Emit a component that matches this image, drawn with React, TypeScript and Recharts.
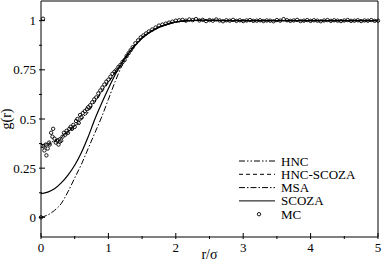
import React from 'react';
import { ComposedChart, Line, Scatter, XAxis, YAxis, Legend, Label } from 'recharts';

const FONT = 'Liberation Serif';

// Theory curves grid
const rGrid = [0, 0.1, 0.2, 0.3, 0.4, 0.5, 0.6, 0.7, 0.8, 0.9, 1.0, 1.1, 1.2, 1.3, 1.4, 1.5, 1.6, 1.7, 1.8, 1.9, 2.0, 2.2, 2.4, 2.6, 2.8, 3.0, 3.5, 4.0, 4.5, 5.0];
const hnc = [0.37, 0.375, 0.39, 0.41, 0.435, 0.465, 0.5, 0.54, 0.59, 0.64, 0.69, 0.74, 0.79, 0.84, 0.88, 0.915, 0.94, 0.96, 0.975, 0.987, 0.995, 1.002, 1.003, 1.002, 1.001, 1.0, 1.0, 1.0, 1.0, 1.0];
const hncScoza = [0.355, 0.365, 0.385, 0.405, 0.43, 0.46, 0.495, 0.535, 0.585, 0.635, 0.685, 0.735, 0.785, 0.835, 0.875, 0.91, 0.938, 0.958, 0.973, 0.985, 0.993, 1.0, 1.002, 1.001, 1.0, 1.0, 1.0, 1.0, 1.0, 1.0];
const msa = [0, 0.012, 0.035, 0.07, 0.13, 0.2, 0.27, 0.35, 0.43, 0.51, 0.6, 0.69, 0.77, 0.83, 0.88, 0.915, 0.94, 0.96, 0.975, 0.986, 0.994, 1.0, 1.002, 1.001, 1.0, 1.0, 1.0, 1.0, 1.0, 1.0];
const scoza = [0.12, 0.128, 0.145, 0.175, 0.215, 0.265, 0.33, 0.41, 0.5, 0.58, 0.655, 0.725, 0.785, 0.835, 0.875, 0.91, 0.937, 0.957, 0.972, 0.984, 0.992, 1.0, 1.002, 1.001, 1.0, 1.0, 1.0, 1.0, 1.0, 1.0];

// Monte Carlo points
const mcR = [
  0.0, 0.03, 0.04, 0.05, 0.07, 0.08, 0.1, 0.12, 0.13, 0.15,
  0.17, 0.18, 0.2, 0.22, 0.24, 0.26, 0.28, 0.3, 0.32, 0.34,
  0.36, 0.38, 0.4, 0.42, 0.44, 0.46, 0.48, 0.5, 0.52, 0.54,
  0.56, 0.58, 0.6, 0.62, 0.65, 0.68, 0.7, 0.73, 0.76, 0.79,
  0.82, 0.85, 0.88, 0.91, 0.94, 0.97, 1.0, 1.03, 1.06, 1.09,
  1.12, 1.15, 1.18, 1.21, 1.24, 1.27, 1.3, 1.33, 1.36, 1.4,
  1.44, 1.48, 1.52, 1.56, 1.6, 1.65, 1.7, 1.75, 1.8, 1.85,
  1.9, 1.95, 2.0,
  2.05, 2.1, 2.15, 2.2, 2.25, 2.3, 2.35, 2.4, 2.45, 2.5,
  2.55, 2.6, 2.65, 2.7, 2.75, 2.8, 2.85, 2.9, 2.95, 3.0,
  3.05, 3.1, 3.15, 3.2, 3.25, 3.3, 3.35, 3.4, 3.45, 3.5,
  3.55, 3.6, 3.65, 3.7, 3.75, 3.8, 3.85, 3.9, 3.95, 4.0,
  4.05, 4.1, 4.15, 4.2, 4.25, 4.3, 4.35, 4.4, 4.45, 4.5,
  4.55, 4.6, 4.65, 4.7, 4.75, 4.8, 4.85, 4.9, 4.95, 5.0,
];
const mcG = [
  0.0, 1.01, 0.36, 0.34, 0.37, 0.315, 0.35, 0.38, 0.37, 0.43,
  0.41, 0.45, 0.40, 0.38, 0.39, 0.37, 0.385, 0.39, 0.41, 0.43,
  0.42, 0.44, 0.43, 0.45, 0.46, 0.45, 0.47, 0.46, 0.49, 0.50,
  0.48, 0.52, 0.51, 0.53, 0.54, 0.55, 0.56, 0.57, 0.585, 0.6,
  0.61, 0.63, 0.645, 0.66, 0.675, 0.69, 0.70, 0.715, 0.73, 0.74,
  0.75, 0.765, 0.775, 0.79, 0.80, 0.82, 0.835, 0.85, 0.865, 0.885,
  0.9, 0.915, 0.925, 0.935, 0.945, 0.955, 0.965, 0.975, 0.98, 0.985,
  0.99, 0.995, 1.0,
  1.002, 1.004, 1.0, 1.006, 1.003, 1.008, 1.001, 1.004, 0.998, 1.003,
  1.0, 1.006, 1.001, 0.997, 1.002, 1.0, 1.004, 0.999, 1.002, 0.998,
  1.001, 1.003, 0.999, 1.0, 1.002, 0.998, 1.001, 1.0, 0.997, 1.003,
  1.0, 1.008, 1.002, 0.999, 1.001, 1.004, 0.998, 1.0, 1.003, 0.999,
  1.002, 1.0, 0.997, 1.001, 1.003, 0.999, 1.002, 1.0, 0.998, 1.001,
  1.003, 0.999, 1.0, 1.002, 0.998, 1.001, 1.0, 1.003, 0.999, 1.0,
];

const xTicks = [0, 0.5, 1, 1.5, 2, 2.5, 3, 3.5, 4, 4.5, 5];
const yTicks = [0, 0.125, 0.25, 0.375, 0.5, 0.625, 0.75, 0.875, 1];
const legendNames = ['HNC', 'HNC-SCOZA', 'MSA', 'SCOZA', 'MC'];
const dashes = ['6 2 1.5 2 1.5 2', '4 3', '6 2 1.5 2', undefined];

const toSeries = (vals: number[]) => rGrid.map((r, i) => ({ r, g: vals[i] }));
const hncData = toSeries(hnc);
const hncScozaData = toSeries(hncScoza);
const msaData = toSeries(msa);
const scozaData = toSeries(scoza);
const mcData = mcR.map((r, i) => ({ r, g: mcG[i] }));

const isMajorX = (v: number) => Math.abs(v - Math.round(v)) < 1e-9;
const isMajorY = (v: number) => Math.abs(v * 4 - Math.round(v * 4)) < 1e-9;

const BottomTick = (p: any) => {
  const v = p.payload.value;
  const major = isMajorX(v);
  return (
    <g>
      <line x1={p.x} x2={p.x} y1={p.y} y2={p.y - (major ? 6 : 3)} stroke="#000" />
      {major && (
        <text x={p.x} y={p.y + 13} textAnchor="middle" fontSize={13} fontFamily={FONT} fill="#000">{String(v)}</text>
      )}
    </g>
  );
};
const TopTick = (p: any) => {
  const major = isMajorX(p.payload.value);
  return <line x1={p.x} x2={p.x} y1={p.y} y2={p.y + (major ? 6 : 3)} stroke="#000" />;
};
const LeftTick = (p: any) => {
  const v = p.payload.value;
  const major = isMajorY(v);
  return (
    <g>
      <line x1={p.x} x2={p.x + (major ? 6 : 3)} y1={p.y} y2={p.y} stroke="#000" />
      {major && (
        <text x={p.x - 3} y={p.y + 4.5} textAnchor="end" fontSize={13} fontFamily={FONT} fill="#000">{String(v)}</text>
      )}
    </g>
  );
};
const RightTick = (p: any) => {
  const major = isMajorY(p.payload.value);
  return <line x1={p.x} x2={p.x - (major ? 6 : 3)} y1={p.y} y2={p.y} stroke="#000" />;
};

const MCDot = (p: any) => (
  <circle cx={p.cx} cy={p.cy} r={1.7} fill="none" stroke="#000" strokeWidth={0.9} />
);

const LegendBox = () => (
  <svg width={140} height={72} style={{ display: 'block' }}>
    {legendNames.map((name, i) => {
      const y = 7 + i * 13.3;
      return (
        <g key={name}>
          {i < 4 ? (
            <line x1={0} x2={36} y1={y} y2={y} stroke="#000" strokeWidth={1} strokeDasharray={dashes[i]} />
          ) : (
            <circle cx={20} cy={y} r={1.7} fill="none" stroke="#000" strokeWidth={0.9} />
          )}
          <text x={42} y={y + 4.5} fontSize={13} fontFamily={FONT} fill="#000">{name}</text>
        </g>
      );
    })}
  </svg>
);

export default function App() {
  return (
    <div style={{ position: 'absolute', left: 0, top: 0 }}>
      <ComposedChart width={382} height={263} margin={{ top: 0, right: 0, bottom: 0, left: 0 }}>
        <XAxis
          xAxisId="b"
          dataKey="r"
          type="number"
          domain={[0, 5]}
          ticks={xTicks}
          interval={0}
          height={26}
          tickSize={0}
          tickLine={false}
          tick={<BottomTick />}
          axisLine={{ stroke: '#000' }}
        >
          <Label
            content={(lp: any) => {
              const vb = lp.viewBox;
              return (
                <text x={vb.x + vb.width / 2} y={vb.y + vb.height - 4} textAnchor="middle" fontSize={14} fontFamily={FONT} fill="#000">r/σ</text>
              );
            }}
          />
        </XAxis>
        <XAxis
          xAxisId="t"
          orientation="top"
          dataKey="r"
          type="number"
          domain={[0, 5]}
          ticks={xTicks}
          interval={0}
          height={1}
          tickSize={0}
          tickLine={false}
          tick={<TopTick />}
          axisLine={{ stroke: '#000' }}
        />
        <YAxis
          yAxisId="l"
          type="number"
          domain={[-0.1, 1.1]}
          ticks={yTicks}
          interval={0}
          width={41}
          tickSize={0}
          tickLine={false}
          tick={<LeftTick />}
          axisLine={{ stroke: '#000' }}
        >
          <Label
            content={(lp: any) => {
              const vb = lp.viewBox;
              const cx = 11;
              const cy = vb.y + vb.height / 2;
              return (
                <text x={cx} y={cy} transform={`rotate(-90 ${cx} ${cy})`} textAnchor="middle" fontSize={14} fontFamily={FONT} fill="#000">g(r)</text>
              );
            }}
          />
        </YAxis>
        <YAxis
          yAxisId="r"
          orientation="right"
          type="number"
          domain={[-0.1, 1.1]}
          ticks={yTicks}
          interval={0}
          width={4}
          tickSize={0}
          tickLine={false}
          tick={<RightTick />}
          axisLine={{ stroke: '#000' }}
        />
        <Line xAxisId="b" yAxisId="l" data={hncData} dataKey="g" type="monotone" stroke="#000" strokeWidth={1} strokeDasharray={dashes[0]} dot={false} isAnimationActive={false} />
        <Line xAxisId="b" yAxisId="l" data={hncScozaData} dataKey="g" type="monotone" stroke="#000" strokeWidth={1} strokeDasharray={dashes[1]} dot={false} isAnimationActive={false} />
        <Line xAxisId="b" yAxisId="l" data={msaData} dataKey="g" type="monotone" stroke="#000" strokeWidth={1} strokeDasharray={dashes[2]} dot={false} isAnimationActive={false} />
        <Line xAxisId="b" yAxisId="l" data={scozaData} dataKey="g" type="monotone" stroke="#000" strokeWidth={1.2} dot={false} isAnimationActive={false} />
        <Scatter xAxisId="b" yAxisId="l" data={mcData} dataKey="g" shape={<MCDot />} isAnimationActive={false} />
        <Legend
          layout="horizontal"
          verticalAlign="middle"
          align="center"
          content={<LegendBox />}
          wrapperStyle={{ left: 239, top: 154, width: 140, height: 72 }}
        />
      </ComposedChart>
    </div>
  );
}
